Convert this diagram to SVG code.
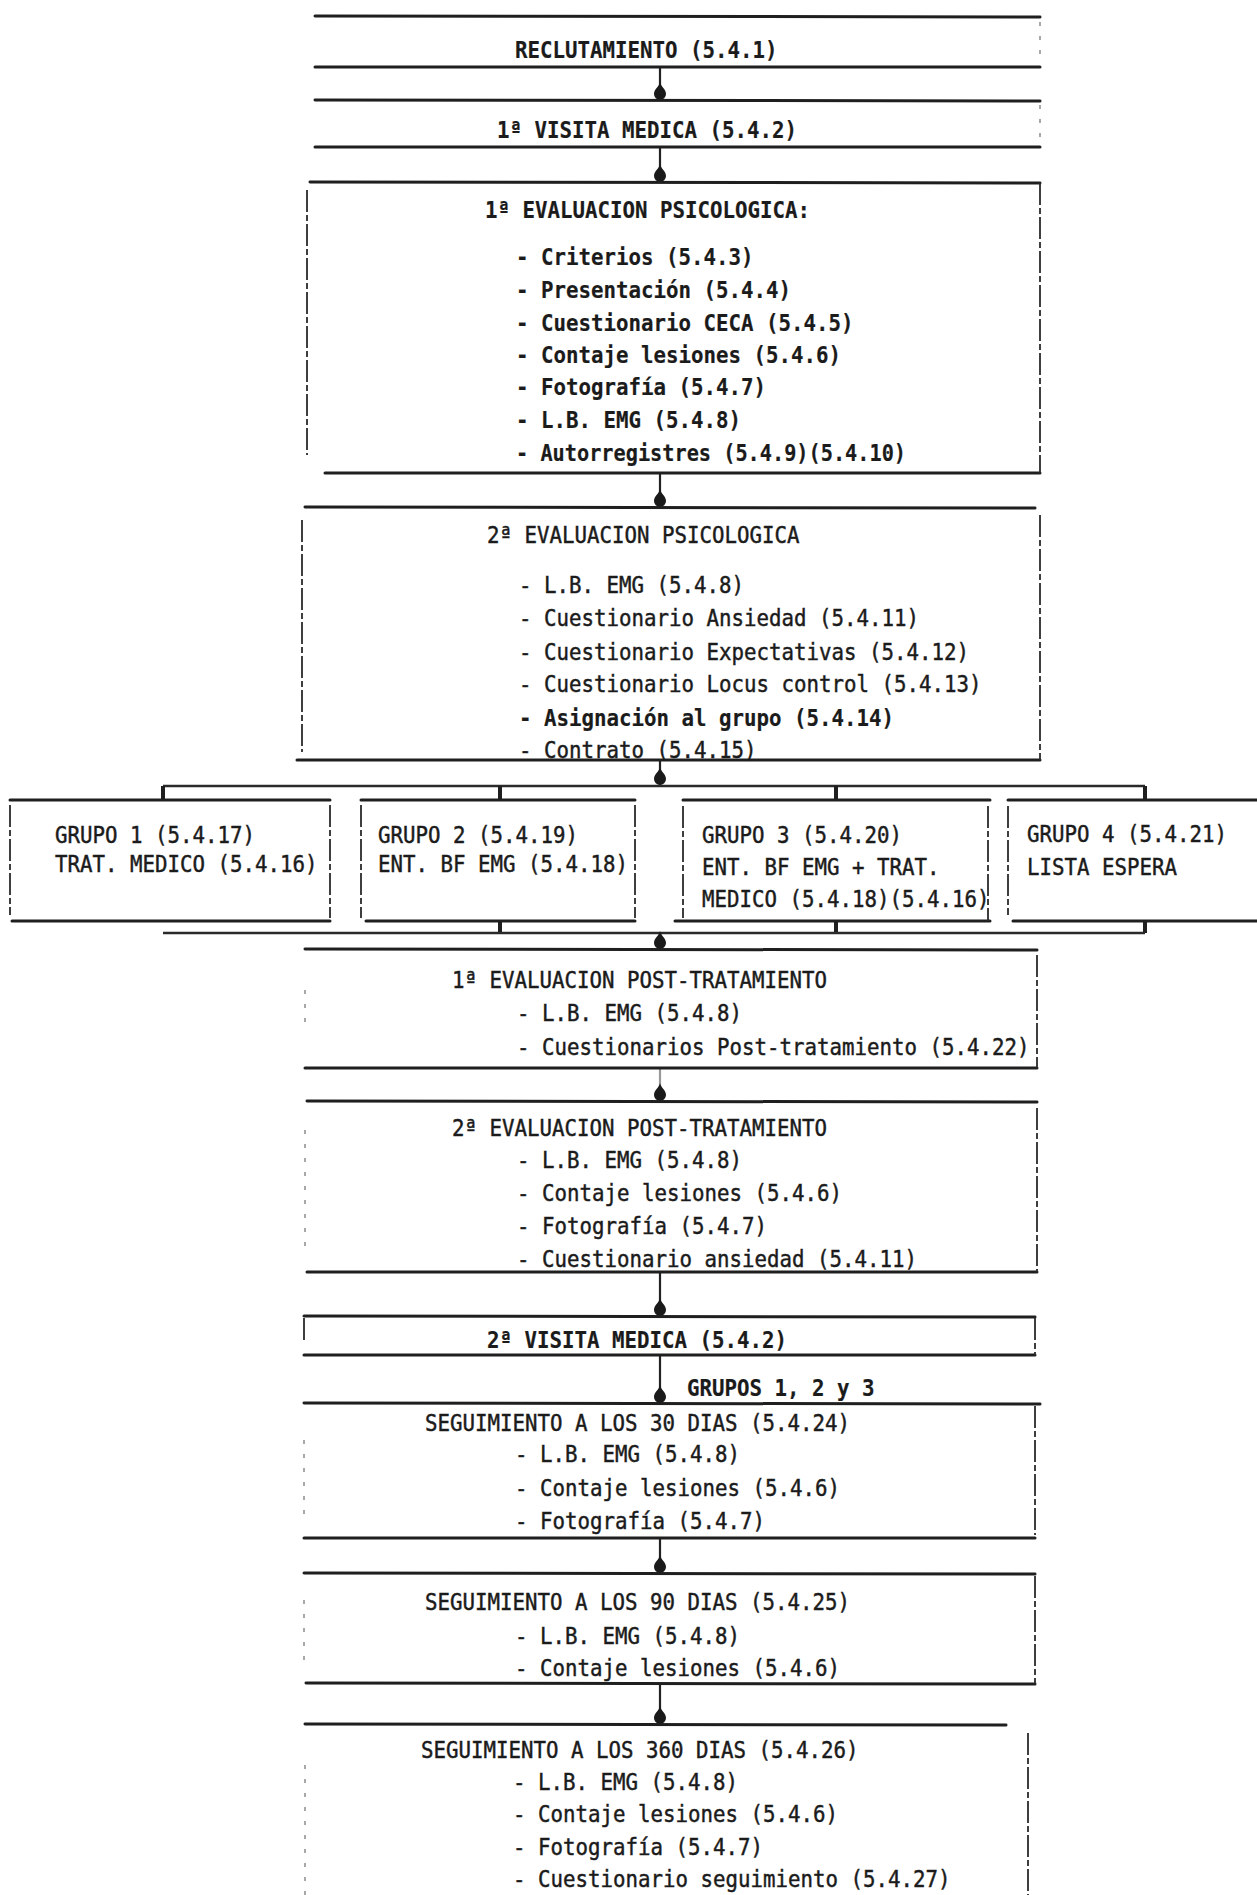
<svg xmlns="http://www.w3.org/2000/svg" width="1257" height="1895" viewBox="0 0 1257 1895">
  <defs>
    <style>
      .t { font-family: "DejaVu Sans Mono", "Liberation Mono", monospace; font-size: 23px; fill: #1b1b1b; stroke: #1b1b1b; stroke-width: 0.45; }
      .b { font-weight: bold; stroke-width: 0.2; }
      .h { stroke: #1f1f1f; stroke-width: 3; fill: none; stroke-linecap: round; }
      .v { stroke: #2a2a2a; stroke-width: 1.8; fill: none; stroke-dasharray: 22 3 6 3; }
      .vf { stroke: #7a7a7a; stroke-width: 1.3; fill: none; stroke-dasharray: 4 10; }
      .c { stroke: #222; stroke-width: 2.2; fill: none; marker-end: url(#dot); }
      .bus { stroke: #2a2a2a; stroke-width: 2.4; fill: none; }
      .tick { stroke: #1f1f1f; stroke-width: 4; fill: none; }
    </style>
    <!-- rounded drop at the end of each flow line -->
    <marker id="dot" viewBox="-20 -8 22 16" markerWidth="22" markerHeight="16" refX="0" refY="0" markerUnits="userSpaceOnUse" orient="auto">
      <path d="M-18,0 C-13,-1 -11,-6 -6,-6 A6,6 0 0 1 -6,6 C-11,6 -13,1 -18,0 Z" fill="#1a1a1a"/>
    </marker>
  </defs>

  <rect x="0" y="0" width="1257" height="1895" fill="#ffffff"/>

  <!-- flow lines -->
  <g id="connectors">
    <path class="c" d="M660,67 V100"/>
    <path class="c" d="M660,147 V182"/>
    <path class="c" d="M660,473 V507"/>
    <path class="c" d="M660,760 V785"/>
    <path class="bus" d="M163,786 H1145"/>
    <path class="tick" d="M163,786 V800"/>
    <path class="tick" d="M500,786 V800"/>
    <path class="tick" d="M836,786 V800"/>
    <path class="tick" d="M1145,786 V800"/>
    <path class="tick" d="M500,921 V933"/>
    <path class="tick" d="M836,921 V933"/>
    <path class="tick" d="M1145,921 V933"/>
    <path class="bus" d="M163,933 H1145"/>
    <path class="c" d="M660,933 V949"/>
    <path class="c" d="M660,1068 V1101" style="stroke:#999"/>
    <path class="c" d="M660,1272 V1316"/>
    <path class="c" d="M660,1355 V1403"/>
    <path class="c" d="M660,1538 V1573"/>
    <path class="c" d="M660,1683 V1724"/>
    <text class="t b" x="687" y="1396" textLength="187.5" lengthAdjust="spacingAndGlyphs">GRUPOS 1, 2 y 3</text>
  </g>

  <g id="reclutamiento">
    <line class="h" x1="315" y1="16" x2="1040" y2="17"/>
    <line class="h" x1="315" y1="67" x2="1040" y2="67"/>
    <line class="vf" x1="1040" y1="22" x2="1040" y2="64"/>
    <text class="t b" x="515" y="58" textLength="262.5" lengthAdjust="spacingAndGlyphs">RECLUTAMIENTO (5.4.1)</text>
  </g>

  <g id="visita1">
    <line class="h" x1="315" y1="100" x2="1040" y2="101"/>
    <line class="h" x1="315" y1="147" x2="1040" y2="147"/>
    <line class="vf" x1="1040" y1="105" x2="1040" y2="144"/>
    <text class="t b" x="497" y="138" textLength="300" lengthAdjust="spacingAndGlyphs">1ª VISITA MEDICA (5.4.2)</text>
  </g>

  <g id="evaluacion-psicologica-1">
    <line class="h" x1="310" y1="182" x2="1040" y2="183"/>
    <line class="h" x1="325" y1="473" x2="1040" y2="473"/>
    <line class="v" x1="307" y1="190" x2="307" y2="455"/>
    <line class="v" x1="1040" y1="183" x2="1040" y2="473"/>
    <text class="t b" x="485" y="218" textLength="325" lengthAdjust="spacingAndGlyphs">1ª EVALUACION PSICOLOGICA:</text>
    <text class="t b" x="516" y="265" textLength="237.5" lengthAdjust="spacingAndGlyphs">- Criterios (5.4.3)</text>
    <text class="t b" x="516" y="298" textLength="275" lengthAdjust="spacingAndGlyphs">- Presentación (5.4.4)</text>
    <text class="t b" x="516" y="331" textLength="337.5" lengthAdjust="spacingAndGlyphs">- Cuestionario CECA (5.4.5)</text>
    <text class="t b" x="516" y="363" textLength="325" lengthAdjust="spacingAndGlyphs">- Contaje lesiones (5.4.6)</text>
    <text class="t b" x="516" y="395" textLength="250" lengthAdjust="spacingAndGlyphs">- Fotografía (5.4.7)</text>
    <text class="t b" x="516" y="428" textLength="225" lengthAdjust="spacingAndGlyphs">- L.B. EMG (5.4.8)</text>
    <text class="t b" x="516" y="461" textLength="390" lengthAdjust="spacingAndGlyphs">- Autorregistres (5.4.9)(5.4.10)</text>
  </g>

  <g id="evaluacion-psicologica-2">
    <line class="h" x1="305" y1="507" x2="1035" y2="508"/>
    <line class="h" x1="297" y1="760" x2="1040" y2="760"/>
    <line class="v" x1="302" y1="520" x2="302" y2="752"/>
    <line class="v" x1="1040" y1="515" x2="1040" y2="760"/>
    <text class="t" x="487" y="543" textLength="312.5" lengthAdjust="spacingAndGlyphs">2ª EVALUACION PSICOLOGICA</text>
    <text class="t" x="519" y="593" textLength="225" lengthAdjust="spacingAndGlyphs">- L.B. EMG (5.4.8)</text>
    <text class="t" x="519" y="626" textLength="400" lengthAdjust="spacingAndGlyphs">- Cuestionario Ansiedad (5.4.11)</text>
    <text class="t" x="519" y="660" textLength="450" lengthAdjust="spacingAndGlyphs">- Cuestionario Expectativas (5.4.12)</text>
    <text class="t" x="519" y="692" textLength="462.5" lengthAdjust="spacingAndGlyphs">- Cuestionario Locus control (5.4.13)</text>
    <text class="t b" x="519" y="726" textLength="375" lengthAdjust="spacingAndGlyphs">- Asignación al grupo (5.4.14)</text>
    <text class="t" x="519" y="758" textLength="237.5" lengthAdjust="spacingAndGlyphs">- Contrato (5.4.15)</text>
  </g>

  <g id="grupo1">
    <line class="h" x1="10" y1="800" x2="330" y2="800"/>
    <line class="h" x1="12" y1="921" x2="330" y2="921"/>
    <line class="v" x1="10" y1="805" x2="10" y2="915"/>
    <line class="v" x1="330" y1="805" x2="330" y2="918"/>
    <text class="t" x="55" y="843" textLength="200" lengthAdjust="spacingAndGlyphs">GRUPO 1 (5.4.17)</text>
    <text class="t" x="55" y="872" textLength="262.5" lengthAdjust="spacingAndGlyphs">TRAT. MEDICO (5.4.16)</text>
  </g>

  <g id="grupo2">
    <line class="h" x1="361" y1="800" x2="635" y2="800"/>
    <line class="h" x1="366" y1="921" x2="635" y2="921"/>
    <line class="v" x1="361" y1="805" x2="361" y2="918"/>
    <line class="v" x1="635" y1="805" x2="635" y2="918"/>
    <text class="t" x="378" y="843" textLength="200" lengthAdjust="spacingAndGlyphs">GRUPO 2 (5.4.19)</text>
    <text class="t" x="378" y="872" textLength="250" lengthAdjust="spacingAndGlyphs">ENT. BF EMG (5.4.18)</text>
  </g>

  <g id="grupo3">
    <line class="h" x1="683" y1="800" x2="990" y2="800"/>
    <line class="h" x1="675" y1="921" x2="990" y2="921"/>
    <line class="v" x1="683" y1="806" x2="683" y2="918"/>
    <line class="v" x1="988" y1="806" x2="988" y2="921"/>
    <text class="t" x="702" y="843" textLength="200" lengthAdjust="spacingAndGlyphs">GRUPO 3 (5.4.20)</text>
    <text class="t" x="702" y="875" textLength="237.5" lengthAdjust="spacingAndGlyphs">ENT. BF EMG + TRAT.</text>
    <text class="t" x="702" y="907" textLength="287.5" lengthAdjust="spacingAndGlyphs">MEDICO (5.4.18)(5.4.16)</text>
  </g>

  <g id="grupo4">
    <line class="h" x1="1008" y1="800" x2="1257" y2="800"/>
    <line class="h" x1="1013" y1="921" x2="1257" y2="921"/>
    <line class="v" x1="1008" y1="806" x2="1008" y2="915"/>
    <text class="t" x="1027" y="842" textLength="200" lengthAdjust="spacingAndGlyphs">GRUPO 4 (5.4.21)</text>
    <text class="t" x="1027" y="875" textLength="150" lengthAdjust="spacingAndGlyphs">LISTA ESPERA</text>
  </g>

  <g id="post-tratamiento-1">
    <line class="h" x1="305" y1="949" x2="1037" y2="950"/>
    <line class="h" x1="305" y1="1068" x2="1037" y2="1068"/>
    <line class="vf" x1="305" y1="990" x2="305" y2="1030"/>
    <line class="v" x1="1037" y1="955" x2="1037" y2="1068"/>
    <text class="t" x="452" y="988" textLength="375" lengthAdjust="spacingAndGlyphs">1ª EVALUACION POST-TRATAMIENTO</text>
    <text class="t" x="517" y="1021" textLength="225" lengthAdjust="spacingAndGlyphs">- L.B. EMG (5.4.8)</text>
    <text class="t" x="517" y="1055" textLength="512.5" lengthAdjust="spacingAndGlyphs">- Cuestionarios Post-tratamiento (5.4.22)</text>
  </g>

  <g id="post-tratamiento-2">
    <line class="h" x1="307" y1="1101" x2="1037" y2="1102"/>
    <line class="h" x1="307" y1="1272" x2="1037" y2="1272"/>
    <line class="vf" x1="305" y1="1130" x2="305" y2="1250"/>
    <line class="v" x1="1037" y1="1108" x2="1037" y2="1272"/>
    <text class="t" x="452" y="1136" textLength="375" lengthAdjust="spacingAndGlyphs">2ª EVALUACION POST-TRATAMIENTO</text>
    <text class="t" x="517" y="1168" textLength="225" lengthAdjust="spacingAndGlyphs">- L.B. EMG (5.4.8)</text>
    <text class="t" x="517" y="1201" textLength="325" lengthAdjust="spacingAndGlyphs">- Contaje lesiones (5.4.6)</text>
    <text class="t" x="517" y="1234" textLength="250" lengthAdjust="spacingAndGlyphs">- Fotografía (5.4.7)</text>
    <text class="t" x="517" y="1267" textLength="400" lengthAdjust="spacingAndGlyphs">- Cuestionario ansiedad (5.4.11)</text>
  </g>

  <g id="visita2">
    <line class="h" x1="304" y1="1316" x2="1035" y2="1317"/>
    <line class="h" x1="304" y1="1355" x2="1035" y2="1355"/>
    <line class="v" x1="304" y1="1318" x2="304" y2="1340"/>
    <line class="v" x1="1035" y1="1318" x2="1035" y2="1355"/>
    <text class="t b" x="487" y="1348" textLength="300" lengthAdjust="spacingAndGlyphs">2ª VISITA MEDICA (5.4.2)</text>
  </g>

  <g id="seguimiento-30">
    <line class="h" x1="304" y1="1403" x2="1040" y2="1404"/>
    <line class="h" x1="304" y1="1538" x2="1035" y2="1538"/>
    <line class="vf" x1="304" y1="1440" x2="304" y2="1520"/>
    <line class="v" x1="1035" y1="1406" x2="1035" y2="1535"/>
    <text class="t" x="425" y="1431" textLength="425" lengthAdjust="spacingAndGlyphs">SEGUIMIENTO A LOS 30 DIAS (5.4.24)</text>
    <text class="t" x="515" y="1462" textLength="225" lengthAdjust="spacingAndGlyphs">- L.B. EMG (5.4.8)</text>
    <text class="t" x="515" y="1496" textLength="325" lengthAdjust="spacingAndGlyphs">- Contaje lesiones (5.4.6)</text>
    <text class="t" x="515" y="1529" textLength="250" lengthAdjust="spacingAndGlyphs">- Fotografía (5.4.7)</text>
  </g>

  <g id="seguimiento-90">
    <line class="h" x1="304" y1="1573" x2="1035" y2="1574"/>
    <line class="h" x1="306" y1="1683" x2="1035" y2="1684"/>
    <line class="vf" x1="304" y1="1600" x2="304" y2="1670"/>
    <line class="v" x1="1035" y1="1576" x2="1035" y2="1684"/>
    <text class="t" x="425" y="1610" textLength="425" lengthAdjust="spacingAndGlyphs">SEGUIMIENTO A LOS 90 DIAS (5.4.25)</text>
    <text class="t" x="515" y="1644" textLength="225" lengthAdjust="spacingAndGlyphs">- L.B. EMG (5.4.8)</text>
    <text class="t" x="515" y="1676" textLength="325" lengthAdjust="spacingAndGlyphs">- Contaje lesiones (5.4.6)</text>
  </g>

  <g id="seguimiento-360">
    <line class="h" x1="305" y1="1724" x2="1006" y2="1725"/>
    <line class="vf" x1="305" y1="1765" x2="305" y2="1895"/>
    <line class="v" x1="1028" y1="1733" x2="1028" y2="1895"/>
    <text class="t" x="421" y="1758" textLength="437.5" lengthAdjust="spacingAndGlyphs">SEGUIMIENTO A LOS 360 DIAS (5.4.26)</text>
    <text class="t" x="513" y="1790" textLength="225" lengthAdjust="spacingAndGlyphs">- L.B. EMG (5.4.8)</text>
    <text class="t" x="513" y="1822" textLength="325" lengthAdjust="spacingAndGlyphs">- Contaje lesiones (5.4.6)</text>
    <text class="t" x="513" y="1855" textLength="250" lengthAdjust="spacingAndGlyphs">- Fotografía (5.4.7)</text>
    <text class="t" x="513" y="1887" textLength="437.5" lengthAdjust="spacingAndGlyphs">- Cuestionario seguimiento (5.4.27)</text>
  </g>
</svg>
